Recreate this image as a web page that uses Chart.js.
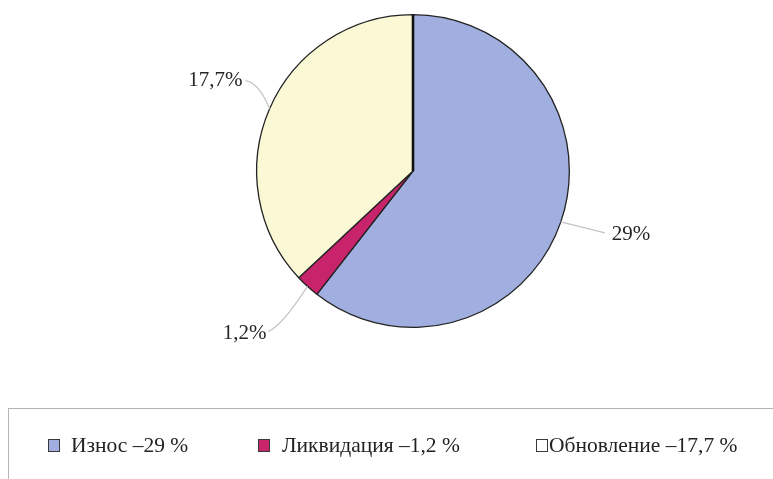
<!DOCTYPE html>
<html>
<head>
<meta charset="utf-8">
<script src="https://cdn.jsdelivr.net/npm/chart.js@4"></script>
<style>
  body { margin: 0; background: #fff; }
  #wrap { position: relative; width: 773px; height: 479px; }
  #chart { position: absolute; left: 0; top: 0; }
  #legend {
    position: absolute; left: 8px; top: 408px; width: 765px; height: 70px;
    border-top: 1px solid #b4b4b4; border-left: 1px solid #b4b4b4;
    font-family: "Liberation Serif", "Times New Roman", serif; font-size: 21.5px; color: #222;
  }
  .item { position: absolute; top: 24px; display: flex; align-items: center; white-space: nowrap; }
  .box { width: 10px; height: 11px; border: 1.5px solid #3a3a3a; display: inline-block; }
</style>
</head>
<body>
<div id="wrap">
  <canvas id="chart" width="773" height="479"></canvas>
  <div id="legend"></div>
</div>
<script>
// slices, clockwise from 12 o'clock
const categories = ['Износ', 'Ликвидация', 'Обновление'];
const values = [29, 1.2, 17.7];
const colors = ['#a0afdf', '#c8246c', '#fbf8d6'];
const legendFill = ['#a0afdf', '#c8246c', '#ffffff'];

// label placement around each slice: elbow / line end / text anchor, relative to the rim point
const labelLayout = [
  { elbow: [44, 11], end: [44, 11], text: [51, 13], align: 'left' },
  { elbow: [-26, 40], end: [-39, 45], text: [-41, 47], align: 'right' },
  { elbow: [-11, -26], end: [-24, -28], text: [-27, -28], align: 'right' },
];
const legendLeft = [39, 249, 527];
const legendGap = [11, 12, 1];

const fmt = v => String(v).replace('.', ',');

// leader lines + percent labels
const pieLabels = {
  id: 'pieLabels',
  afterDatasetsDraw(chart) {
    const ctx = chart.ctx;
    const meta = chart.getDatasetMeta(0);
    ctx.save();
    meta.data.forEach((arc, i) => {
      const { x, y, startAngle, endAngle, outerRadius } =
        arc.getProps(['x', 'y', 'startAngle', 'endAngle', 'outerRadius'], true);
      const mid = (startAngle + endAngle) / 2;
      const ex = x + Math.cos(mid) * outerRadius;
      const ey = y + Math.sin(mid) * outerRadius;
      const l = labelLayout[i];
      ctx.strokeStyle = '#c4c4c4';
      ctx.lineWidth = 1.2;
      ctx.beginPath();
      ctx.moveTo(ex, ey);
      ctx.quadraticCurveTo(ex + l.elbow[0], ey + l.elbow[1], ex + l.end[0], ey + l.end[1]);
      ctx.stroke();
      ctx.fillStyle = '#262626';
      ctx.font = '21px "Liberation Serif", "Times New Roman", serif';
      ctx.textAlign = l.align;
      ctx.textBaseline = 'middle';
      ctx.fillText(fmt(values[i]) + '%', ex + l.text[0], ey + l.text[1]);
    });
    // heavier radius at the start of the first slice
    const first = meta.data[0].getProps(['x', 'y', 'startAngle', 'outerRadius'], true);
    ctx.strokeStyle = '#111';
    ctx.lineWidth = 2.6;
    ctx.beginPath();
    ctx.moveTo(first.x, first.y);
    ctx.lineTo(first.x + Math.cos(first.startAngle) * first.outerRadius,
               first.y + Math.sin(first.startAngle) * first.outerRadius);
    ctx.stroke();
    ctx.restore();
  }
};

new Chart(document.getElementById('chart'), {
  type: 'pie',
  data: {
    labels: categories,
    datasets: [{
      data: values,
      backgroundColor: colors,
      borderColor: '#222',
      borderWidth: 1.3,
    }],
  },
  options: {
    responsive: false,
    animation: false,
    layout: { padding: { left: 53, right: 0, top: 14, bottom: 151 } },
    plugins: {
      legend: { display: false },
      tooltip: { enabled: false },
    },
  },
  plugins: [pieLabels],
});

// legend row under the pie
const legend = document.getElementById('legend');
categories.forEach((cat, i) => {
  const item = document.createElement('div');
  item.className = 'item';
  item.style.left = legendLeft[i] + 'px';
  const box = document.createElement('span');
  box.className = 'box';
  box.style.background = legendFill[i];
  box.style.marginRight = legendGap[i] + 'px';
  const txt = document.createElement('span');
  txt.textContent = cat + ' –' + fmt(values[i]) + ' %';
  item.appendChild(box);
  item.appendChild(txt);
  legend.appendChild(item);
});
</script>
</body>
</html>
